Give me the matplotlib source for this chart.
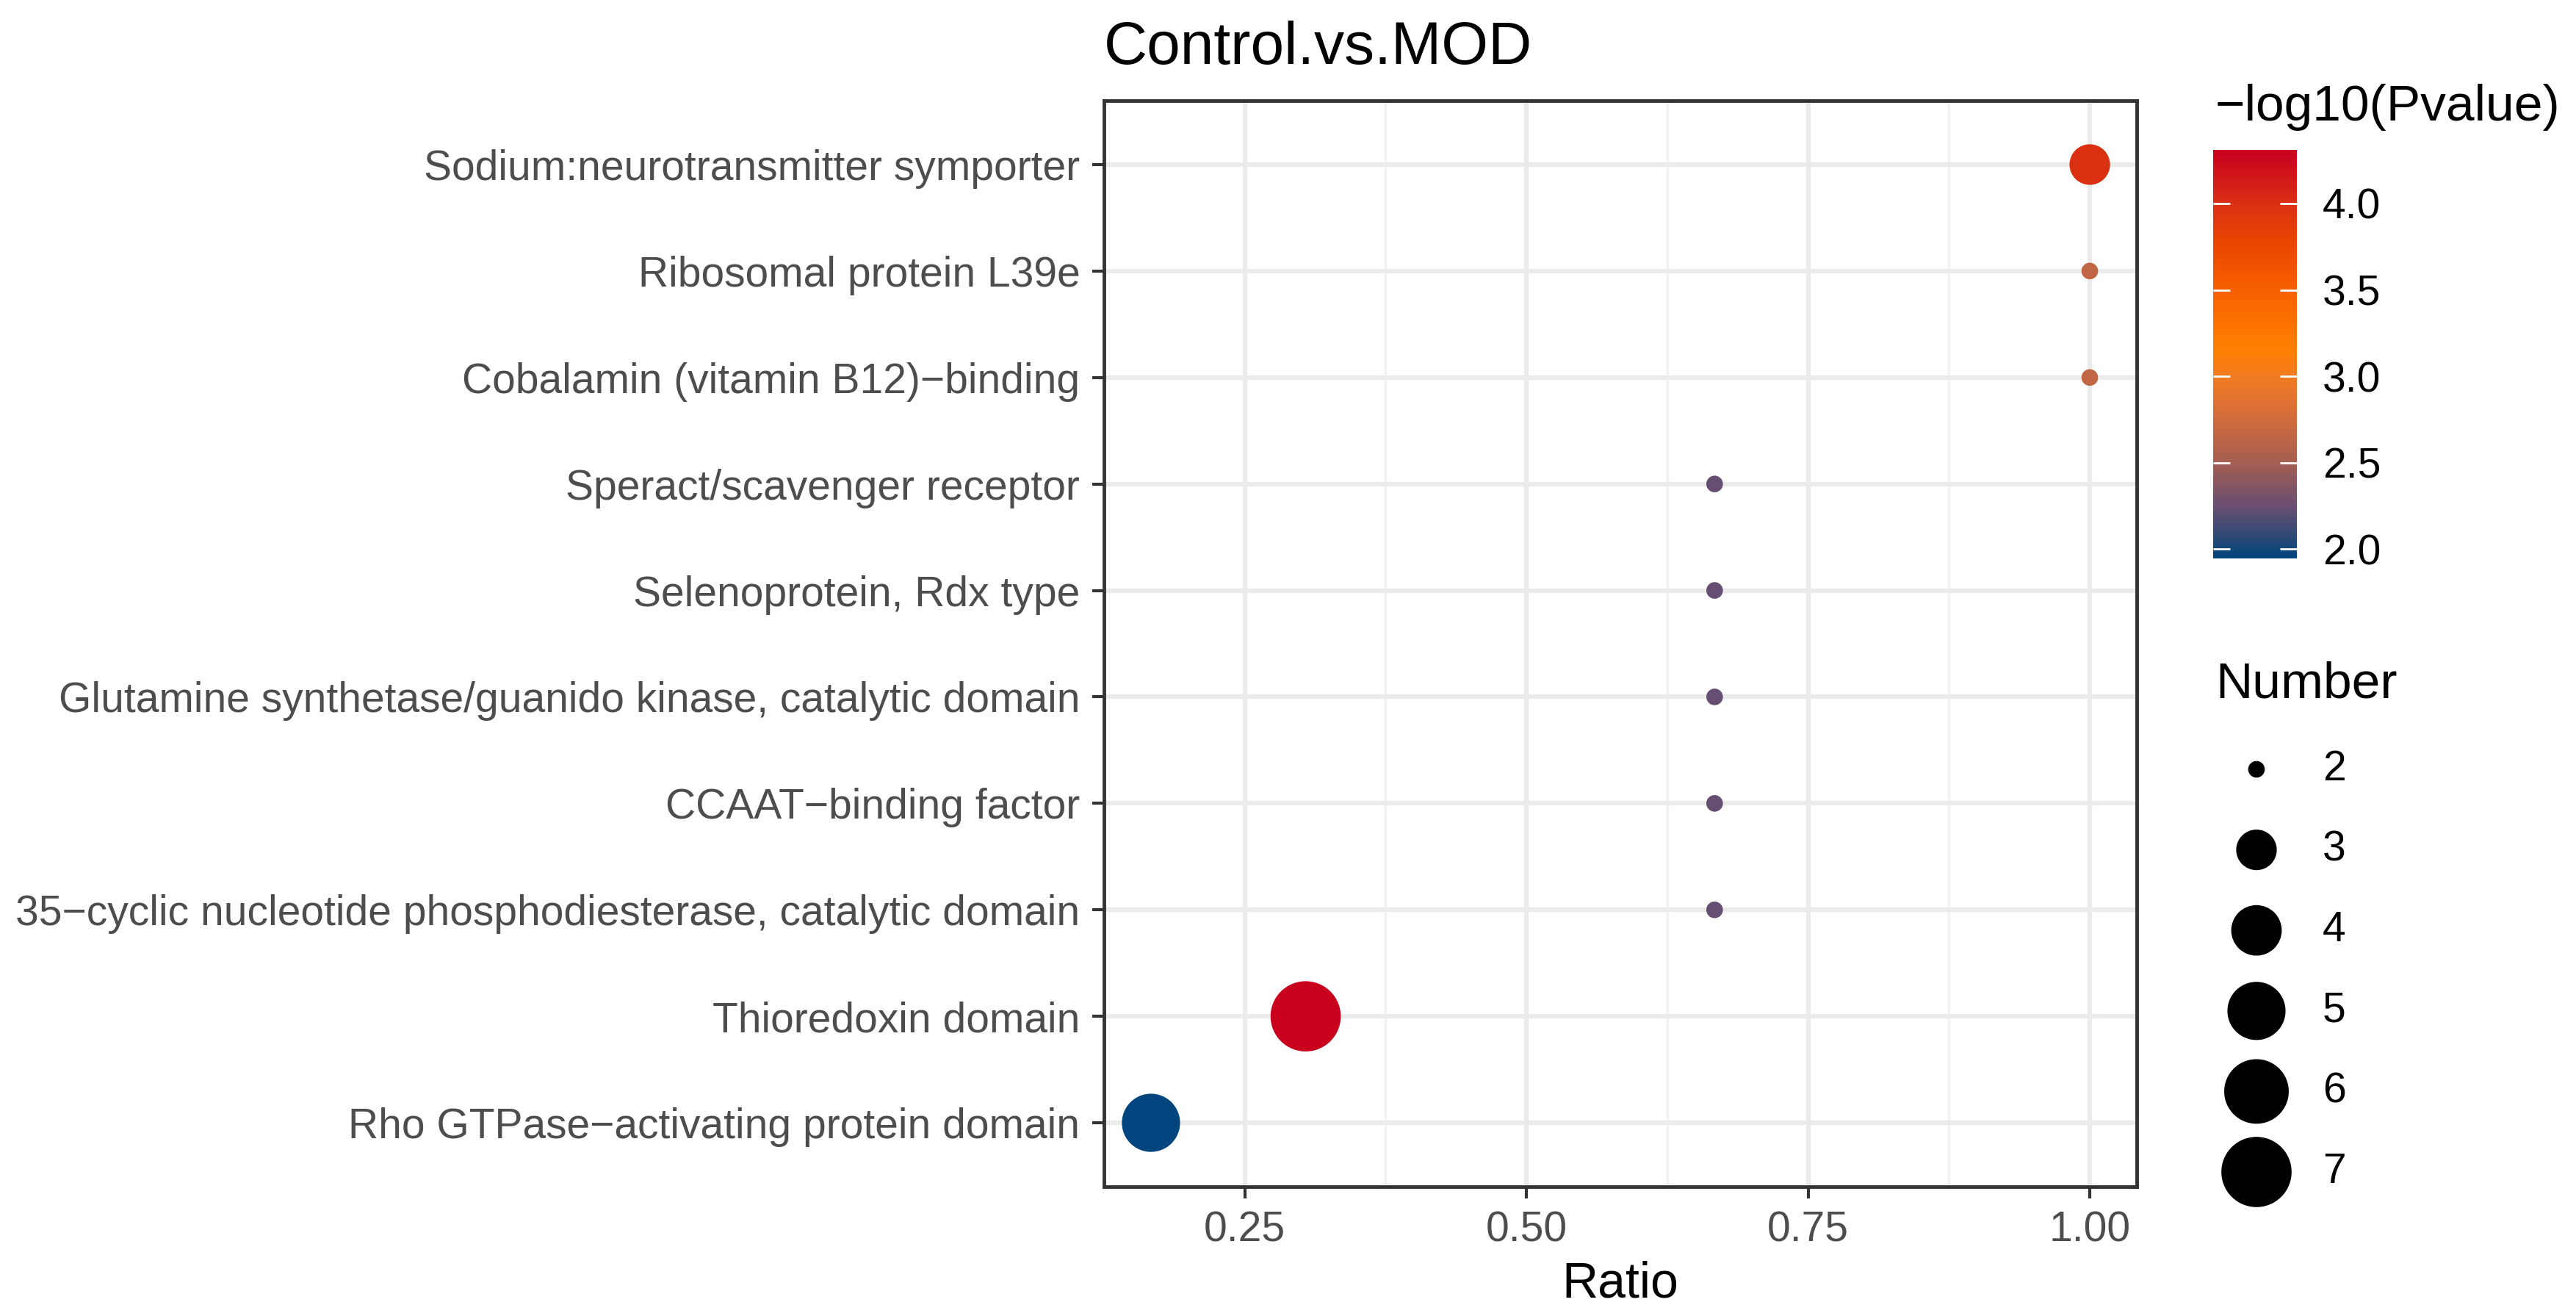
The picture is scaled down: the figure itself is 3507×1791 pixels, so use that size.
import numpy as np
import matplotlib
matplotlib.use("Agg")
import matplotlib.pyplot as plt
from matplotlib.colors import LinearSegmentedColormap, Normalize

plt.rcParams['font.family'] = ['Liberation Sans', 'DejaVu Sans']

# data (top row first)
terms = [
    "Sodium:neurotransmitter symporter",
    "Ribosomal protein L39e",
    "Cobalamin (vitamin B12)\u2212binding",
    "Speract/scavenger receptor",
    "Selenoprotein, Rdx type",
    "Glutamine synthetase/guanido kinase, catalytic domain",
    "CCAAT\u2212binding factor",
    "35\u2212cyclic nucleotide phosphodiesterase, catalytic domain",
    "Thioredoxin domain",
    "Rho GTPase\u2212activating protein domain",
]
ratio = [1.0, 1.0, 1.0, 0.667, 0.667, 0.667, 0.667, 0.667, 0.304, 0.1667]
number = [3, 2, 2, 2, 2, 2, 2, 2, 7, 5]
neglog_p = [3.98, 2.65, 2.65, 2.24, 2.24, 2.24, 2.24, 2.24, 4.31, 1.946]

x_ticks = [0.25, 0.50, 0.75, 1.00]
x_minor = [0.125, 0.375, 0.625, 0.875]
cbar_ticks = [2.0, 2.5, 3.0, 3.5, 4.0]
size_breaks = [2, 3, 4, 5, 6, 7]

# colour gradient (blue -> orange -> red), sampled from the colour bar
grad_vals = [1.946, 2.09, 2.24, 2.5, 2.74, 2.97, 3.16, 3.5, 3.78, 4.0, 4.31]
grad_cols = ['#00457D', '#354A73', '#684E72', '#A45E52', '#D06A3C', '#EF7A25',
             '#FF8000', '#F86000', '#E94500', '#DA3014', '#C8001E']
vmin, vmax = min(neglog_p), max(neglog_p)
cmap = LinearSegmentedColormap.from_list(
    'pv', [((v - vmin) / (vmax - vmin), c) for v, c in zip(grad_vals, grad_cols)])
norm = Normalize(vmin=vmin, vmax=vmax)

DPI = 100
W, H = 3507, 1791


def size_pt2(n):
    # ggplot-like area scale, range 1..6 over counts 2..7
    s = 1 + 5 * np.sqrt((np.asarray(n, float) - 2) / 5)
    px = 8 + 14.6 * s
    return (px * 72 / DPI) ** 2


fig = plt.figure(figsize=(W / DPI, H / DPI), dpi=DPI)

# main panel
ax = fig.add_axes([1503 / W, 1 - 1615 / H, 1406 / W, 1478 / H])
ypos = np.arange(len(terms))
sc = ax.scatter(ratio, ypos, s=size_pt2(number), c=neglog_p, cmap=cmap, norm=norm,
                edgecolors='none', zorder=3)
ax.set_xlim(0.125, 1.0417)
ax.set_ylim(len(terms) - 1 + 0.6, -0.6)
ax.set_xticks(x_ticks)
ax.set_xticklabels([f"{t:.2f}" for t in x_ticks])
ax.set_xticks(x_minor, minor=True)
ax.set_yticks(ypos)
ax.set_yticklabels(terms)
ax.set_axisbelow(True)
ax.grid(True, which='major', color='#EBEBEB', linewidth=4.5)
ax.grid(True, which='minor', axis='x', color='#F2F2F2', linewidth=2.5)
ax.tick_params(which='major', length=11.5, width=3, color='#333333',
               labelsize=41, labelcolor='#4D4D4D', pad=12)
ax.tick_params(which='minor', length=0)
for sp in ax.spines.values():
    sp.set_color('#333333')
    sp.set_linewidth(3.5)

ax.set_xlabel("Ratio", fontsize=49, color='black')
ax.xaxis.label.set_va('baseline')
ax.xaxis.set_label_coords(0.5, (1615 - 1765) / 1478)

fig.text(1503 / W, 1 - 87 / H, "Control.vs.MOD", fontsize=59, color='black',
         ha='left', va='baseline')

# colour bar
cax = fig.add_axes([3013 / W, 1 - 760 / H, 114 / W, 556 / H])
cb = fig.colorbar(sc, cax=cax, ticks=cbar_ticks)
cb.outline.set_visible(False)
cb.ax.set_yticklabels([f"{t:.1f}" for t in cbar_ticks])
cax.tick_params(direction='in', length=16.5, width=2, color='white',
                left=True, right=True, labelleft=False, labelright=True,
                labelsize=41, labelcolor='black', pad=25)
fig.text(3016 / W, 1 - 164 / H, "\u2212log10(Pvalue)", fontsize=50, color='black',
         ha='left', va='baseline')

# size legend
fig.text(3016 / W, 1 - 950 / H, "Number", fontsize=50, color='black',
         ha='left', va='baseline')
step = 109.6
lax = fig.add_axes([3000 / W, 1 - (1047 - step / 2 + 6 * step) / H, 300 / W, 6 * step / H])
lax.axis('off')
lax.set_xlim(0, 300)
lax.set_ylim(len(size_breaks) - 0.5, -0.5)
lpos = np.arange(len(size_breaks))
lax.scatter(np.full(len(size_breaks), 72), lpos, s=size_pt2(size_breaks),
            c='black', edgecolors='none', clip_on=False)
for yy, n in zip(lpos, size_breaks):
    lax.text(162, yy, str(n), fontsize=41, color='black', ha='left', va='center')

fig.savefig("out.png", dpi=DPI, facecolor='white')
